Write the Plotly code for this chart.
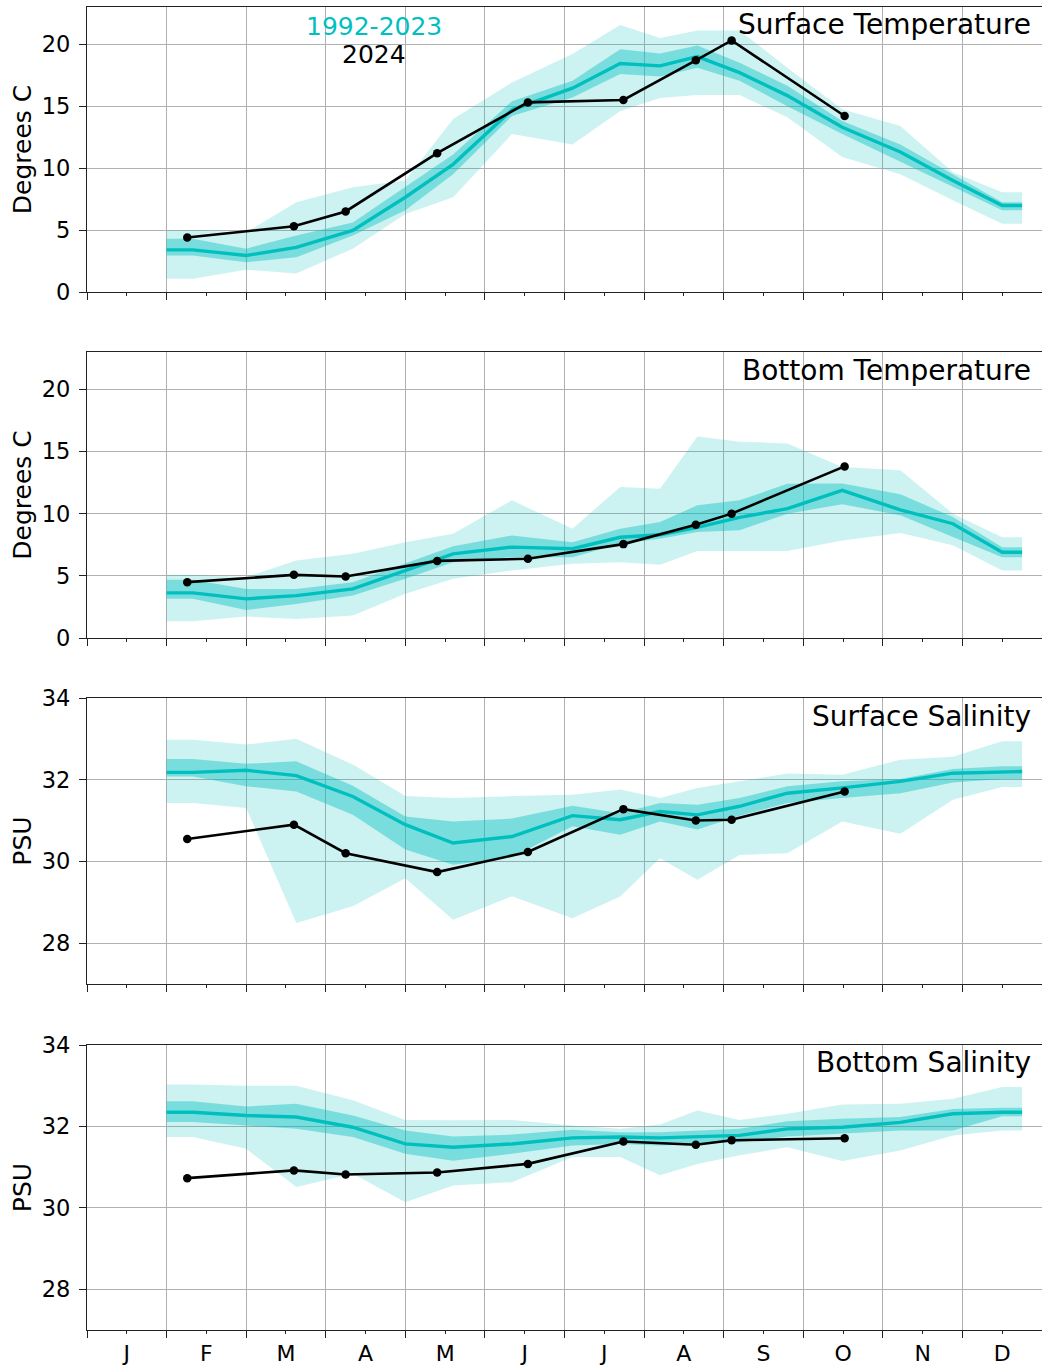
import plotly.graph_objects as go

# ---------------- data ----------------
month_labels = ["J", "F", "M", "A", "M", "J", "J", "A", "S", "O", "N", "D"]

# climatology (1992-2023) sample positions, in months from Jan 1
clim_x = [1.0, 1.33, 2.0, 2.63, 3.34, 4.0, 4.6, 5.34, 6.1, 6.7, 7.2, 7.67, 8.2, 8.8, 9.49, 10.22, 10.88, 11.5, 11.75]
# 2024 sample positions
x2024 = [1.26, 2.60, 3.25, 4.40, 5.54, 6.74, 7.65, 8.10, 9.52]

# Surface temperature
st_mean = [3.4, 3.4, 2.95, 3.6, 4.97, 7.65, 10.3, 14.7, 16.45, 18.44, 18.25, 19.0, 17.7, 15.85, 13.3, 11.3, 9.0, 6.98, 6.98]
st_in_hi = [4.3, 4.3, 3.5, 4.56, 5.6, 8.45, 11.1, 15.4, 17.05, 19.6, 19.25, 19.9, 18.5, 16.65, 13.8, 11.9, 9.5, 7.25, 7.25]
st_in_lo = [2.95, 2.95, 2.4, 2.8, 4.56, 6.6, 9.5, 14.2, 15.7, 17.6, 17.4, 18.1, 17.05, 15.0, 12.75, 10.5, 8.45, 6.6, 6.6]
st_out_hi = [5.0, 5.0, 4.8, 7.25, 8.45, 9.0, 13.96, 16.9, 19.2, 21.55, 20.5, 21.1, 21.1, 18.1, 14.75, 13.4, 9.66, 8.05, 8.05]
st_out_lo = [1.07, 1.07, 1.8, 1.5, 3.5, 6.3, 7.65, 12.75, 11.9, 14.6, 15.65, 15.9, 15.9, 14.1, 10.9, 9.5, 7.4, 5.5, 5.5]
st_2024 = [4.4, 5.3, 6.5, 11.2, 15.3, 15.5, 18.7, 20.3, 14.2]

# Bottom temperature
bt_mean = [3.63, 3.63, 3.15, 3.41, 3.95, 5.43, 6.77, 7.31, 7.18, 8.1, 8.3, 8.9, 9.7, 10.4, 11.88, 10.3, 9.19, 6.9, 6.9]
bt_in_hi = [4.68, 4.68, 3.95, 3.95, 4.49, 6.02, 7.37, 8.25, 7.7, 8.79, 9.33, 10.67, 11.07, 12.4, 12.42, 11.56, 9.73, 7.3, 7.3]
bt_in_lo = [3.15, 3.15, 2.26, 2.74, 3.41, 4.76, 6.1, 6.5, 6.5, 7.58, 7.98, 8.52, 8.66, 10.0, 10.75, 9.87, 8.12, 6.5, 6.5]
bt_out_hi = [5.08, 5.08, 4.9, 6.24, 6.77, 7.7, 8.39, 11.07, 8.79, 12.15, 12.0, 16.2, 15.78, 15.65, 13.76, 13.5, 10.0, 8.1, 8.1]
bt_out_lo = [1.34, 1.34, 1.72, 1.53, 1.8, 3.55, 4.76, 5.43, 5.97, 6.1, 5.9, 6.99, 6.99, 6.99, 7.85, 8.44, 7.45, 5.43, 5.43]
bt_2024 = [4.49, 5.08, 4.95, 6.2, 6.37, 7.55, 9.1, 10.0, 13.8]

# Surface salinity
ss_mean = [32.18, 32.18, 32.23, 32.1, 31.59, 30.9, 30.45, 30.61, 31.12, 31.02, 31.22, 31.14, 31.35, 31.67, 31.8, 31.96, 32.16, 32.2, 32.2]
ss_in_hi = [32.51, 32.51, 32.39, 32.45, 31.85, 31.1, 30.98, 31.05, 31.36, 31.18, 31.43, 31.39, 31.55, 31.84, 31.96, 32.02, 32.26, 32.33, 32.33]
ss_in_lo = [32.08, 32.08, 31.84, 31.71, 31.14, 30.29, 29.92, 30.1, 30.86, 30.65, 30.98, 30.78, 31.12, 31.43, 31.55, 31.67, 31.93, 32.02, 32.02]
ss_out_hi = [32.98, 32.98, 32.86, 33.0, 32.37, 31.6, 31.55, 31.6, 31.63, 31.76, 31.55, 31.8, 31.96, 32.15, 32.12, 32.49, 32.56, 32.94, 32.94]
ss_out_lo = [31.43, 31.43, 31.31, 28.49, 28.9, 29.59, 28.57, 29.15, 28.61, 29.14, 30.08, 29.55, 30.16, 30.2, 30.98, 30.68, 31.51, 31.82, 31.82]
ss_2024 = [30.55, 30.9, 30.2, 29.74, 30.23, 31.28, 31.0, 31.02, 31.71]

# Bottom salinity
bs_mean = [32.35, 32.35, 32.27, 32.23, 31.98, 31.57, 31.49, 31.57, 31.72, 31.74, 31.72, 31.75, 31.78, 31.94, 31.98, 32.1, 32.31, 32.35, 32.35]
bs_in_hi = [32.62, 32.62, 32.49, 32.56, 32.27, 31.9, 31.75, 31.8, 31.92, 31.86, 31.86, 31.9, 31.94, 32.13, 32.19, 32.23, 32.43, 32.46, 32.46]
bs_in_lo = [32.11, 32.11, 32.02, 31.94, 31.74, 31.33, 31.16, 31.33, 31.53, 31.57, 31.53, 31.57, 31.61, 31.75, 31.82, 31.9, 31.9, 32.25, 32.25]
bs_out_hi = [33.03, 33.03, 33.0, 33.0, 32.64, 32.16, 32.15, 32.16, 32.02, 31.94, 32.05, 32.39, 32.16, 32.31, 32.54, 32.56, 32.68, 32.97, 32.97]
bs_out_lo = [31.74, 31.74, 31.45, 30.51, 30.84, 30.14, 30.55, 30.63, 31.25, 31.25, 30.8, 31.08, 31.29, 31.49, 31.15, 31.41, 31.78, 31.9, 31.9]
bs_2024 = [30.73, 30.92, 30.82, 30.87, 31.08, 31.63, 31.55, 31.66, 31.71]

panels = [
    ("Surface Temperature", "Degrees C", [0, 23], [0, 5, 10, 15, 20],
     st_mean, st_in_lo, st_in_hi, st_out_lo, st_out_hi, st_2024),
    ("Bottom Temperature", "Degrees C", [0, 23], [0, 5, 10, 15, 20],
     bt_mean, bt_in_lo, bt_in_hi, bt_out_lo, bt_out_hi, bt_2024),
    ("Surface Salinity", "PSU", [27, 34], [28, 30, 32, 34],
     ss_mean, ss_in_lo, ss_in_hi, ss_out_lo, ss_out_hi, ss_2024),
    ("Bottom Salinity", "PSU", [27, 34], [28, 30, 32, 34],
     bs_mean, bs_in_lo, bs_in_hi, bs_out_lo, bs_out_hi, bs_2024),
]

# ---------------- styling ----------------
FONT = "DejaVu Sans"
CYAN = "#00BFBF"
OUTER = "rgba(0,191,191,0.2)"
INNER = "rgba(0,191,191,0.4)"
GRID = "#b0b0b0"

W, H = 1042, 1367
top_m, bot_m = 7, 37
plot_h = H - top_m - bot_m
panel_px = [(7, 292), (352, 638), (698, 984), (1045, 1330)]

def frac(py):
    return 1 - (py - top_m) / plot_h

fig = go.Figure()
layout = dict(
    width=W, height=H,
    margin=dict(l=87, r=0, t=top_m, b=bot_m, pad=0, autoexpand=False),
    plot_bgcolor="white", paper_bgcolor="white",
    showlegend=False,
    font=dict(family=FONT, size=22, color="black"),
)
annotations = []

major_x = list(range(0, 13))
label_x = [m + 0.5 for m in range(12)]

for i, (title, ytitle, yr, yt, mean, ilo, ihi, olo, ohi, v24) in enumerate(panels):
    n = i + 1
    xa = "x" if n == 1 else f"x{n}"
    ya = "y" if n == 1 else f"y{n}"
    # outer band
    fig.add_trace(go.Scatter(x=clim_x, y=ohi, mode="lines", line=dict(width=0, color=OUTER),
                             xaxis=xa, yaxis=ya, hoverinfo="skip"))
    fig.add_trace(go.Scatter(x=clim_x, y=olo, mode="lines", line=dict(width=0, color=OUTER),
                             fill="tonexty", fillcolor=OUTER, xaxis=xa, yaxis=ya, hoverinfo="skip"))
    # inner band
    fig.add_trace(go.Scatter(x=clim_x, y=ihi, mode="lines", line=dict(width=0, color=INNER),
                             xaxis=xa, yaxis=ya, hoverinfo="skip"))
    fig.add_trace(go.Scatter(x=clim_x, y=ilo, mode="lines", line=dict(width=0, color=INNER),
                             fill="tonexty", fillcolor=INNER, xaxis=xa, yaxis=ya, hoverinfo="skip"))
    # mean line
    fig.add_trace(go.Scatter(x=clim_x, y=mean, mode="lines", line=dict(width=3.4, color=CYAN),
                             xaxis=xa, yaxis=ya, name="1992-2023"))
    # 2024
    fig.add_trace(go.Scatter(x=x2024, y=v24, mode="lines+markers",
                             line=dict(width=2.6, color="black"),
                             marker=dict(size=8.5, color="black"),
                             xaxis=xa, yaxis=ya, name="2024"))

    ptop, pbot = panel_px[i]
    dom = [frac(pbot), frac(ptop)]
    last = (n == 4)
    layout[f"xaxis{'' if n == 1 else n}"] = dict(
        domain=[0, 1], anchor=ya, range=[0, 12], automargin=False,
        tickmode="array", tickvals=label_x, ticktext=month_labels,
        showticklabels=last, ticks="outside", ticklen=3, tickwidth=1, tickcolor="#222",
        showgrid=False, zeroline=False,
        showline=True, linecolor="#222", linewidth=1.2, mirror=True,
        tickfont=dict(size=22, family=FONT, color="black"),
        minor=dict(tickmode="array", tickvals=major_x, ticks="outside", ticklen=7,
                   tickwidth=1.2, tickcolor="#222", showgrid=True, gridcolor=GRID, gridwidth=1.2),
    )
    layout[f"yaxis{'' if n == 1 else n}"] = dict(
        domain=dom, anchor=xa, range=yr, automargin=False,
        tickmode="array", tickvals=yt, ticks="outside", ticklen=7, tickwidth=1.2, tickcolor="#222",
        ticklabelstandoff=4,
        showgrid=True, gridcolor=GRID, gridwidth=1.2, zeroline=False,
        showline=True, linecolor="#222", linewidth=1.2, mirror=False,
        tickfont=dict(size=22.5, family=FONT, color="black"),
        title=dict(text=ytitle, font=dict(size=25, family=FONT, color="black"), standoff=3),
    )
    annotations.append(dict(
        text=title, xref=f"{xa} domain", yref=f"{ya} domain",
        x=0.991, y=0.937, xanchor="right", yanchor="middle", showarrow=False,
        font=dict(size=28, family=FONT, color="black"),
    ))

annotations.append(dict(text="1992-2023", xref="x domain", yref="y domain", x=0.3005, y=0.933,
                        xanchor="center", yanchor="middle", showarrow=False,
                        font=dict(size=25, family=FONT, color=CYAN)))
annotations.append(dict(text="2024", xref="x domain", yref="y domain", x=0.3005, y=0.832,
                        xanchor="center", yanchor="middle", showarrow=False,
                        font=dict(size=25, family=FONT, color="black")))

layout["annotations"] = annotations
fig.update_layout(**layout)
fig.write_html(
    "out.html",
    config={"displayModeBar": False},
    post_script="document.body.style.margin='0';document.body.style.padding='0';document.body.style.overflow='hidden';",
)
